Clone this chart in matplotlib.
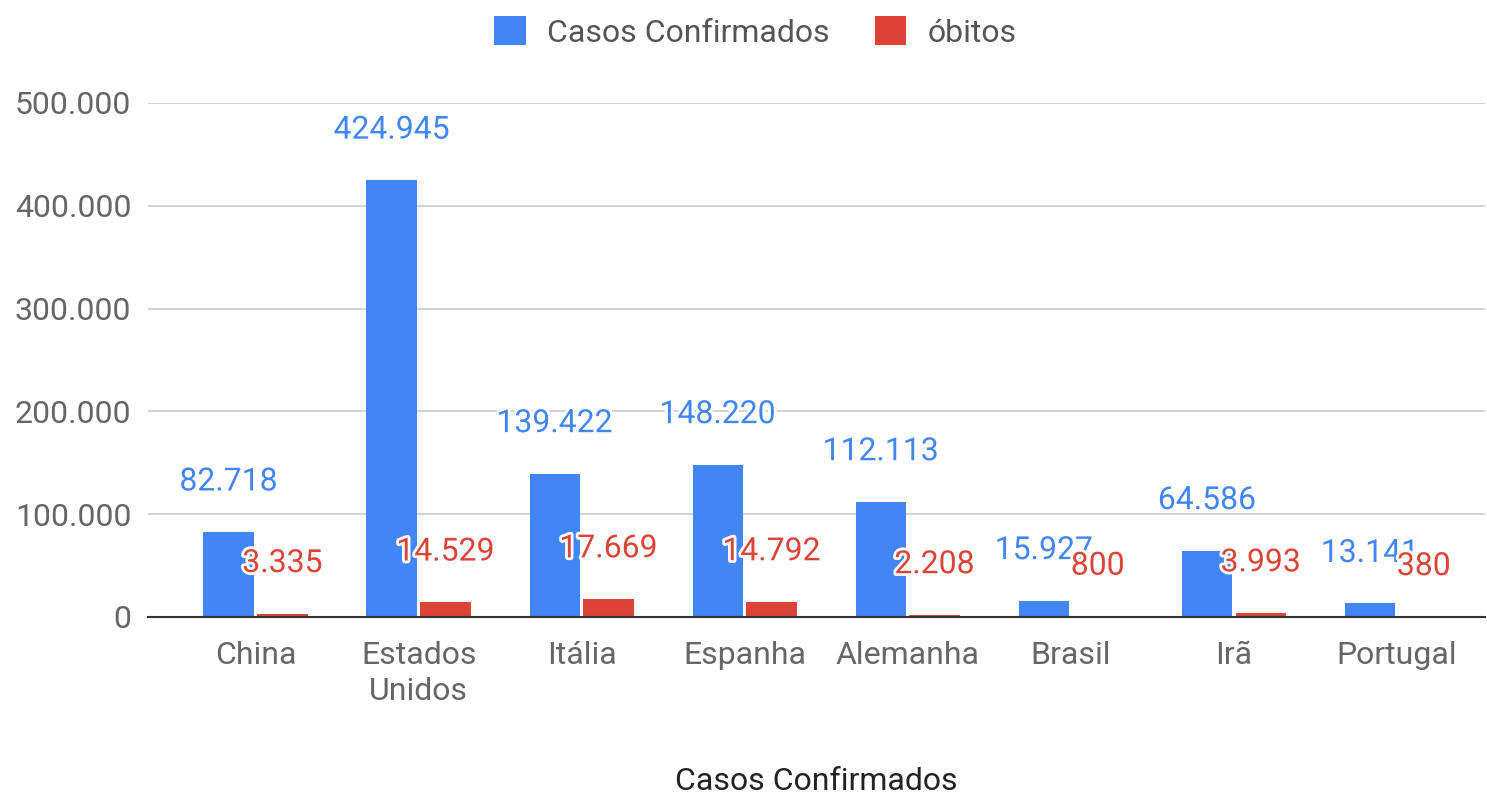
import matplotlib
matplotlib.use("Agg")
import matplotlib.pyplot as plt
import matplotlib.patheffects as pe
import numpy as np

countries = ["China", "Estados\nUnidos", "Itália", "Espanha", "Alemanha", "Brasil", "Irã", "Portugal"]
confirmed = [82718, 424945, 139422, 148220, 112113, 15927, 64586, 13141]
deaths = [3335, 14529, 17669, 14792, 2208, 800, 3993, 380]
series_names = ["Casos Confirmados", "óbitos"]
yticks = [0, 100000, 200000, 300000, 400000, 500000]

BLUE = "#4285F4"
RED = "#DB4437"

plt.rcParams['font.family'] = ['Roboto', 'DejaVu Sans']

fig = plt.figure(figsize=(14.87, 7.94), dpi=100)
ax = fig.add_axes([148/1487, 1-617/794, (1485-148)/1487, (617-103)/794])

x = np.arange(len(countries))
w = 0.31
off = 0.165
b1 = ax.bar(x - off, confirmed, width=w, color=BLUE, label=series_names[0], zorder=2)
b2 = ax.bar(x + off, deaths, width=w, color=RED, label=series_names[1], zorder=2)

def fmt(v):
    return f"{v:,}".replace(",", ".")

FS = 23
stroke = [pe.withStroke(linewidth=4, foreground="white")]
for xi, v in zip(x - off, confirmed):
    ax.annotate(fmt(v), (xi, v), xytext=(0, 36), textcoords="offset points",
                ha="center", va="center", fontsize=FS, color=BLUE,
                path_effects=stroke, zorder=5)
for xi, v in zip(x + off, deaths):
    ax.annotate(fmt(v), (xi, v), xytext=(0, 36), textcoords="offset points",
                ha="center", va="center", fontsize=FS, color=RED,
                path_effects=stroke, zorder=5)

ax.set_ylim(0, 500000)
ax.set_xlim(-0.66, 7.54)
ax.set_yticks(yticks)
ax.set_yticklabels([fmt(t) for t in yticks])
ax.set_xticks(x)
ax.set_xticklabels(countries, linespacing=1.32)
ax.tick_params(axis="both", length=0, labelsize=FS, labelcolor="#666666")
ax.tick_params(axis="y", pad=12)
ax.tick_params(axis="x", pad=17)
ax.grid(axis="y", color="#cccccc", linewidth=1.2, zorder=0)
ax.set_axisbelow(True)
for s in ["top", "right", "left"]:
    ax.spines[s].set_visible(False)
ax.spines["bottom"].set_color("#333333")
ax.spines["bottom"].set_linewidth(1.5)
ax.spines["bottom"].set_zorder(3)

ax.set_xlabel("Casos Confirmados", fontsize=FS, color="#222222", labelpad=44)

leg = fig.legend(handles=[b1, b2], labels=series_names, loc="center",
                 bbox_to_anchor=(0.508, 1-32/794), ncol=2, frameon=False,
                 fontsize=FS, handlelength=1.0, handleheight=1.0,
                 columnspacing=1.4, handletextpad=0.65)
for t in leg.get_texts():
    t.set_color("#555555")

fig.savefig("out.png", dpi=100)
